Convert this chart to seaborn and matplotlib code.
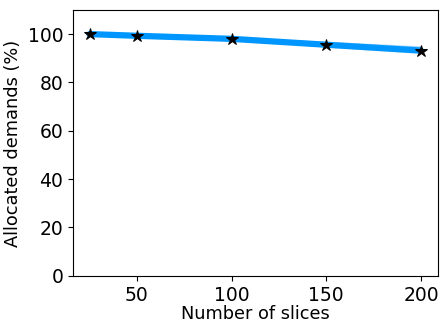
import matplotlib
matplotlib.use("Agg")
import matplotlib.pyplot as plt
import seaborn as sns
import pandas as pd

# values, three runs per slice count
slices = [25, 50, 100, 150, 200]
run_a = [100.0, 99.1, 97.8, 94.9, 92.2]
run_b = [100.0, 99.0, 97.9, 95.1, 92.5]
run_c = [100.0, 99.8, 98.4, 96.8, 94.9]

df = pd.DataFrame({
    "slices": slices * 3,
    "allocated": run_a + run_b + run_c,
})

sns.set_style("ticks", {"axes.edgecolor": "black", "xtick.color": "black",
                        "ytick.color": "black", "text.color": "black",
                        "axes.labelcolor": "black"})
plt.rcParams["font.family"] = ["DejaVu Sans"]

fig, ax = plt.subplots(figsize=(4.42, 3.2), dpi=100)
sns.lineplot(data=df, x="slices", y="allocated", color="#0096ff",
             linewidth=4.5, marker="*", markersize=9, markerfacecolor="black",
             markeredgecolor="black", err_kws={"alpha": 0.25}, ax=ax)

ax.set_ylim(0, 110)
ax.set_xticks([50, 100, 150, 200])
ax.set_yticks([0, 20, 40, 60, 80, 100])
ax.set_xlabel("Number of slices", fontsize=12.8, labelpad=0)
ax.set_ylabel("Allocated demands (%)", fontsize=12.8, labelpad=4)
ax.tick_params(labelsize=13.5, colors="black")

fig.subplots_adjust(left=0.165, right=0.99, top=0.969, bottom=0.138)
fig.savefig("out.png", dpi=100)
